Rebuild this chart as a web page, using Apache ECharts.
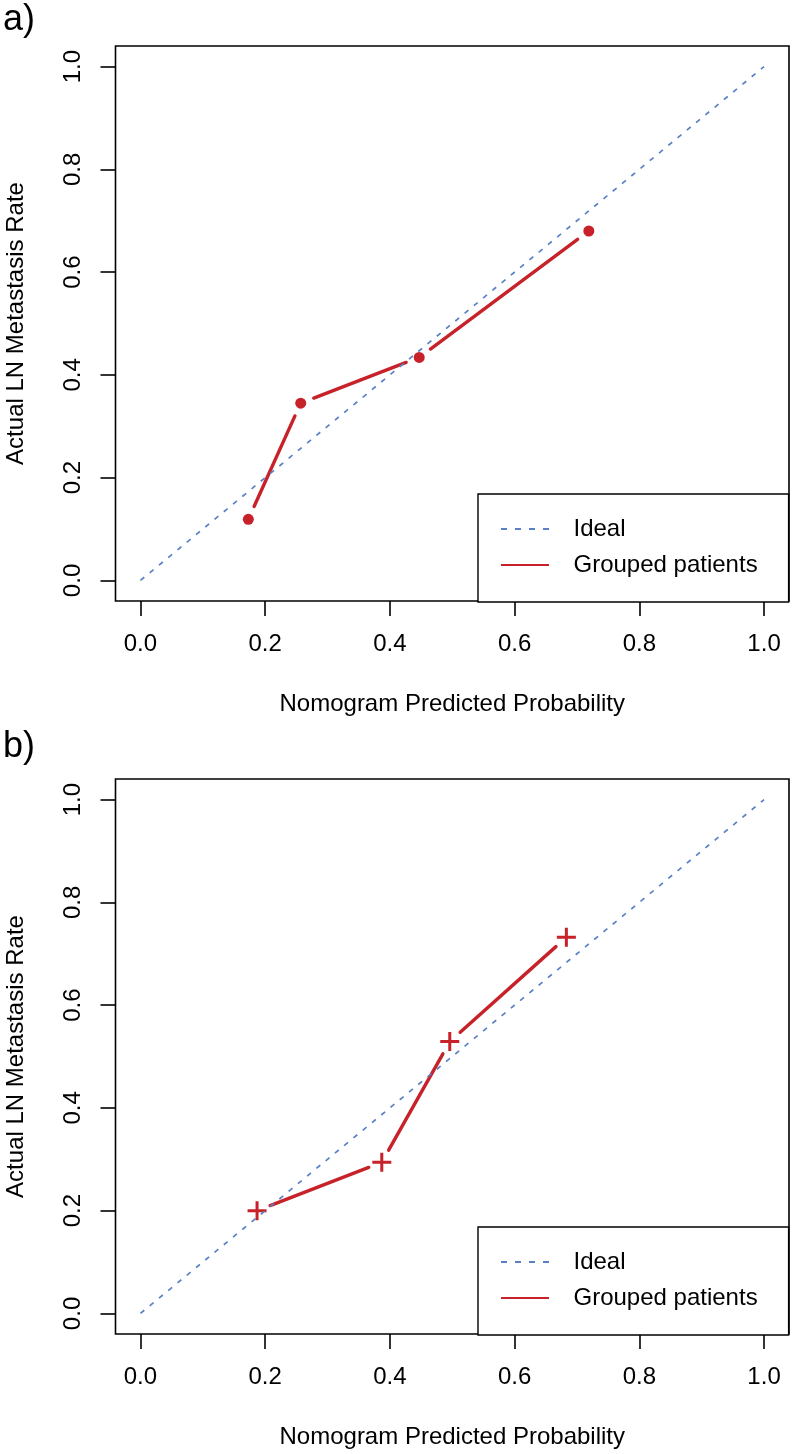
<!DOCTYPE html>
<html>
<head>
<meta charset="utf-8">
<script src="https://cdn.jsdelivr.net/npm/echarts@6/dist/echarts.min.js"></script>
<style>
html,body{margin:0;padding:0;background:#fff;}
#chart{width:793px;height:1454px;}
</style>
</head>
<body>
<div id="chart"></div>
<script>
// ---- data ----
const tickValues = [0, 0.2, 0.4, 0.6, 0.8, 1.0];
const idealX = [0, 1];
const idealY = [0, 1];
const predA = [0.173, 0.257, 0.447, 0.719];
const actualA = [0.119, 0.345, 0.434, 0.680];
const predB = [0.187, 0.387, 0.496, 0.683];
const actualB = [0.200, 0.294, 0.529, 0.732];
const panelLabels = ['a)', 'b)'];
const xTitle = 'Nomogram Predicted Probability';
const yTitle = 'Actual LN Metastasis Rate';
const legendNames = ['Ideal', 'Grouped patients'];

// ---- style ----
const RED = '#C7222A';
const BLUE = '#5B80C4';
const FONT = '"Liberation Sans", Arial, Helvetica, sans-serif';
const GAP = 14;
const PLUS = 'path://M8,0h3v8h8v3h-8v8h-3v-8h-8v-3h8z';

const pairs = (xs, ys) => xs.map((x, i) => [x, ys[i]]);
const segments = (xs, ys) => xs.slice(0, -1).map((x, i) => [x, ys[i], xs[i + 1], ys[i + 1]]);

function renderSeg(params, api) {
  const p1 = api.coord([api.value(0), api.value(1)]);
  const p2 = api.coord([api.value(2), api.value(3)]);
  const dx = p2[0] - p1[0], dy = p2[1] - p1[1];
  const len = Math.sqrt(dx * dx + dy * dy);
  const ux = dx / len, uy = dy / len;
  return {
    type: 'line',
    shape: { x1: p1[0] + ux * GAP, y1: p1[1] + uy * GAP, x2: p2[0] - ux * GAP, y2: p2[1] - uy * GAP },
    style: { stroke: RED, lineWidth: 3.4, lineCap: 'round' }
  };
}

const panelTop = [46, 779];
const grids = panelTop.map(t => ({
  left: 115.5, top: t, width: 673.5, height: 555,
  containLabel: false, outerBoundsMode: 'none',
  show: true, borderColor: '#000', borderWidth: 1.6, backgroundColor: 'transparent'
}));

function xAxisFor(i) {
  return {
    type: 'value', gridIndex: i, min: -0.04, max: 1.04, position: 'bottom',
    axisLine: { show: false, onZero: false },
    splitLine: { show: false },
    axisTick: { show: true, inside: false, length: 15, customValues: tickValues, lineStyle: { color: '#000', width: 1.6 } },
    axisLabel: { customValues: tickValues, margin: 31, fontSize: 24, fontFamily: FONT, color: '#000', formatter: v => v.toFixed(1) },
    name: xTitle, nameLocation: 'middle', nameGap: 91,
    nameTextStyle: { fontSize: 24, fontFamily: FONT, color: '#000' }
  };
}
function yAxisFor(i) {
  return {
    type: 'value', gridIndex: i, min: -0.04, max: 1.04, position: 'left',
    axisLine: { show: false, onZero: false },
    splitLine: { show: false },
    axisTick: { show: true, inside: false, length: 15, customValues: tickValues, lineStyle: { color: '#000', width: 1.6 } },
    axisLabel: { customValues: tickValues, margin: 30, rotate: 90, fontSize: 24, fontFamily: FONT, color: '#000', formatter: v => v.toFixed(1) },
    name: yTitle, nameLocation: 'middle', nameGap: 87,
    nameTextStyle: { fontSize: 24, fontFamily: FONT, color: '#000' }
  };
}

const dashIcon = 'path://M0,0h6v2h-6zM14,0h6v2h-6zM28,0h6v2h-6zM42,0h6v2h-6z';
const lineIcon = 'path://M0,0h48v2h-48z';

function legendFor(i) {
  return {
    left: 478, top: panelTop[i] + 448, orient: 'vertical',
    padding: [23, 31, 25, 23], itemGap: 12, itemWidth: 49, itemHeight: 2,
    borderColor: '#000', borderWidth: 1.4, backgroundColor: '#fff',
    selectedMode: false,
    itemStyle: { borderWidth: 0 },
    data: [{ name: legendNames[0], icon: dashIcon }, { name: legendNames[1], icon: lineIcon }],
    textStyle: { fontSize: 24, fontFamily: FONT, color: '#000', padding: [0, 0, 0, 19] }
  };
}

function seriesFor(i, xs, ys, symbol, symbolSize) {
  return [
    {
      name: legendNames[0], type: 'line', xAxisIndex: i, yAxisIndex: i,
      data: pairs(idealX, idealY), symbol: 'none', color: BLUE,
      lineStyle: { color: BLUE, width: 1.7, type: [5, 7] }, silent: true, animation: false
    },
    {
      name: legendNames[1], type: 'custom', xAxisIndex: i, yAxisIndex: i,
      data: segments(xs, ys), renderItem: renderSeg, color: RED,
      itemStyle: { color: RED }, encode: { x: [0, 2], y: [1, 3] }, silent: true, animation: false
    },
    {
      name: legendNames[1], type: 'scatter', xAxisIndex: i, yAxisIndex: i,
      data: pairs(xs, ys), symbol: symbol, symbolSize: symbolSize, color: RED,
      itemStyle: { color: RED, opacity: 1 }, silent: true, animation: false
    }
  ];
}

const chart = echarts.init(document.getElementById('chart'), null, { renderer: 'canvas' });
chart.setOption({
  backgroundColor: '#fff',
  animation: false,
  title: panelLabels.map((t, i) => ({
    text: t, left: 3, top: [2, 729][i], padding: 0,
    textStyle: { fontSize: 36, fontWeight: 'normal', fontFamily: FONT, color: '#000' }
  })),
  grid: grids,
  xAxis: [xAxisFor(0), xAxisFor(1)],
  yAxis: [yAxisFor(0), yAxisFor(1)],
  legend: [legendFor(0), legendFor(1)],
  series: [
    ...seriesFor(0, predA, actualA, 'circle', 11),
    ...seriesFor(1, predB, actualB, PLUS, 19)
  ]
});
</script>
</body>
</html>
